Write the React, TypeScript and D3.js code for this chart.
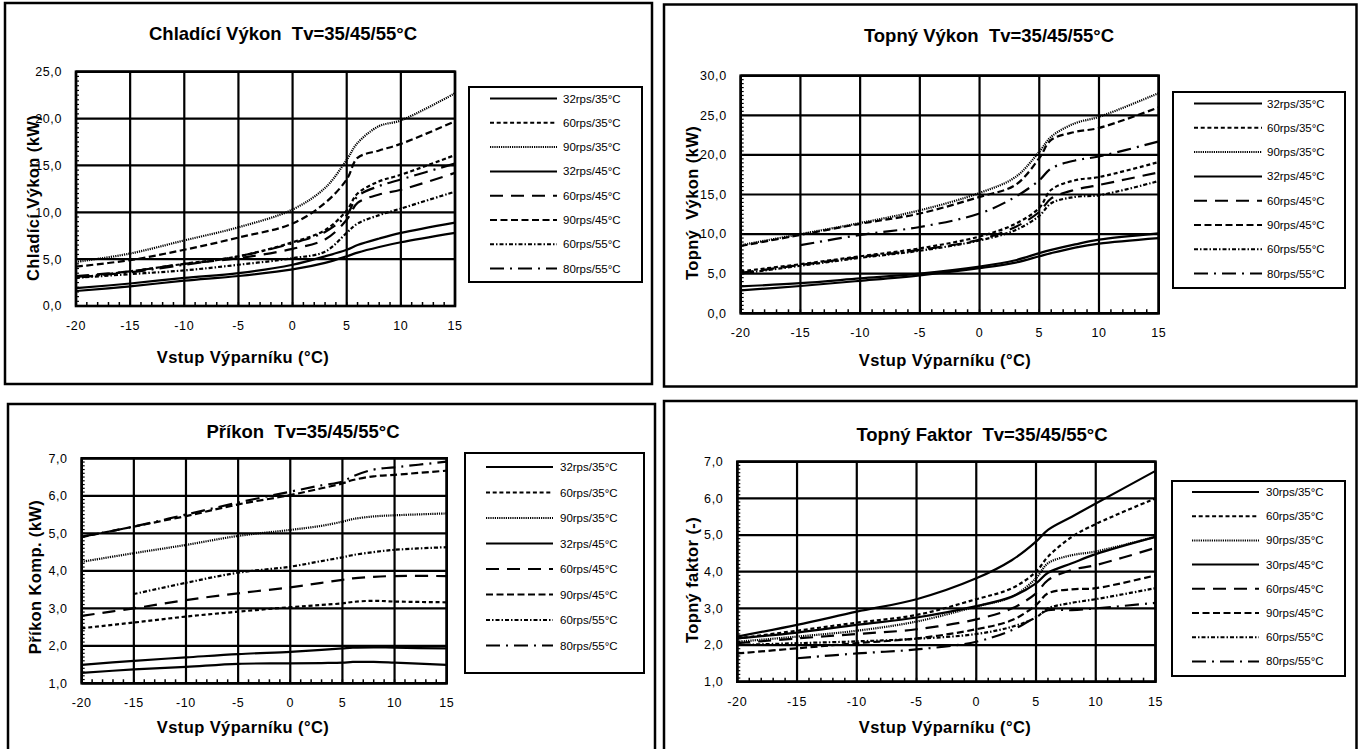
import React from "react";
import * as d3 from "d3";

// evaporator inlet temperatures the curves were read at
const evapTemps = [-20, -15, -10, -5, 0, 3, 5, 6, 8, 10, 15];
const xTicks = [-20, -15, -10, -5, 0, 5, 10, 15];

const legendLabels = ["32rps/35°C", "60rps/35°C", "90rps/35°C", "32rps/45°C", "60rps/45°C", "90rps/45°C", "60rps/55°C", "80rps/55°C"];
const copLegendLabels = ["30rps/35°C", "60rps/35°C", "90rps/35°C", "30rps/45°C", "60rps/45°C", "90rps/45°C", "60rps/55°C", "80rps/55°C"];

// Chladící výkon (kW), rows in legend order
const coolingValues: (number | null)[][] = [
    [1.9, 2.4, 3.0, 3.5, 4.4, 5.3, 6.0, 6.5, 7.2, 7.8, 8.9],
    [3.0, 3.7, 4.5, 5.3, 6.8, 8.1, 10.2, 12.0, 13.3, 14.0, 16.1],
    [4.7, 5.6, 7.0, 8.4, 10.3, 12.6, 15.6, 17.4, 19.2, 19.8, 22.7],
    [1.6, 2.1, 2.7, 3.2, 3.9, 4.6, 5.3, 5.7, 6.3, 6.8, 7.8],
    [3.2, 3.7, 4.5, 5.1, 6.1, 7.1, 9.2, 11.0, 11.9, 12.4, 14.2],
    [4.2, 4.9, 6.0, 7.3, 8.8, 11.0, 13.5, 15.8, 16.6, 17.3, 19.7],
    [3.0, 3.4, 3.8, 4.4, 5.1, 5.8, 7.8, 8.8, 9.7, 10.4, 12.2],
    [3.1, 3.6, 4.4, 5.3, 6.7, 7.9, 9.7, 11.7, 12.8, 13.5, 15.2],
];

// Topný výkon (kW)
const heatingValues: (number | null)[][] = [
    [3.4, 3.8, 4.4, 5.0, 5.9, 6.7, 7.6, 8.0, 8.7, 9.3, 10.1],
    [5.3, 6.2, 7.2, 8.2, 9.7, 11.3, 13.3, 15.6, 16.8, 17.2, 19.1],
    [8.6, 10.0, 11.4, 13.0, 15.2, 17.2, 20.4, 22.3, 24.0, 24.8, 27.8],
    [2.9, 3.45, 4.1, 4.8, 5.7, 6.4, 7.2, 7.6, 8.3, 8.8, 9.5],
    [5.1, 6.1, 7.1, 8.0, 9.3, 10.9, 12.8, 14.5, 15.6, 16.2, 17.8],
    [8.5, 9.9, 11.3, 12.6, 14.7, 16.2, 19.6, 21.9, 22.9, 23.4, 26.0],
    [5.0, 6.0, 7.0, 7.9, 9.2, 10.5, 12.3, 13.9, 14.7, 14.9, 16.7],
    [null, 8.6, 9.9, 10.9, 12.6, 14.7, 16.8, 18.3, 19.3, 19.8, 21.7],
];

// Příkon kompresoru (kW)
const powerValues: (number | null)[][] = [
    [1.28, 1.37, 1.44, 1.52, 1.53, 1.54, 1.55, 1.57, 1.57, 1.55, 1.49],
    [2.47, 2.62, 2.78, 2.91, 3.03, 3.09, 3.13, 3.17, 3.2, 3.18, 3.16],
    [4.24, 4.47, 4.69, 4.93, 5.09, 5.2, 5.31, 5.38, 5.45, 5.48, 5.53],
    [1.49, 1.6, 1.69, 1.78, 1.84, 1.89, 1.93, 1.95, 1.96, 1.95, 1.93],
    [2.8, 3.0, 3.22, 3.4, 3.56, 3.68, 3.76, 3.8, 3.84, 3.86, 3.86],
    [4.9, 5.18, 5.46, 5.77, 6.02, 6.2, 6.33, 6.42, 6.52, 6.56, 6.67],
    [null, 3.38, 3.68, 3.95, 4.11, 4.26, 4.36, 4.42, 4.5, 4.56, 4.63],
    [4.91, 5.18, 5.5, 5.82, 6.11, 6.28, 6.38, 6.52, 6.7, 6.76, 6.91],
];

// Topný faktor (-)
const copValues: (number | null)[][] = [
    [2.23, 2.55, 2.91, 3.25, 3.82, 4.32, 4.82, 5.14, 5.5, 5.86, 6.75],
    [2.18, 2.39, 2.61, 2.82, 3.25, 3.55, 4.0, 4.41, 4.95, 5.3, 6.0],
    [2.09, 2.23, 2.39, 2.64, 3.05, 3.32, 3.82, 4.23, 4.45, 4.55, 4.95],
    [2.18, 2.34, 2.55, 2.75, 3.06, 3.32, 3.68, 3.97, 4.23, 4.48, 4.95],
    [2.05, 2.18, 2.3, 2.43, 2.7, 3.0, 3.41, 3.77, 4.05, 4.18, 4.65],
    [1.77, 1.91, 2.05, 2.18, 2.43, 2.68, 3.09, 3.41, 3.52, 3.55, 3.9],
    [2.0, 2.05, 2.1, 2.17, 2.3, 2.5, 2.75, 3.0, 3.15, 3.25, 3.55],
    [null, 1.64, 1.77, 1.88, 2.09, 2.41, 2.77, 2.95, 2.95, 3.0, 3.15],
];

// one dash pattern per legend row
const lineDashes = ["", "4,2.7", "1.2,1", "", "13,8", "7,3.5", "4,2,1.5,2", "14,6,2,6"];

const FONT = "'Liberation Sans', Arial, sans-serif";

interface PanelCfg {
    frame: {x: number, y: number, w: number, h: number};
    plot: {left: number, right: number, top: number, bottom: number};
    yDomain: [number, number];
    yStep: number;
    title: string;
    titlePos: [number, number];
    yLabel: string;
    yLabelPos: [number, number];
    xLabelPos: [number, number];
    legend: {x: number, y: number, w: number, h: number, row0: number, rowStep: number, lx1: number, lx2: number, tx: number};
    labels: string[];
    values: (number | null)[][];
}

const panels: PanelCfg[] = [
    {
        frame: {x: 5, y: 3, w: 647, h: 381},
        plot: {left: 76, right: 455, top: 71.7, bottom: 306},
        yDomain: [0, 25], yStep: 5,
        title: "Chladící Výkon  Tv=35/45/55°C", titlePos: [283, 40],
        yLabel: "Chladící Výkon (kW)", yLabelPos: [33, 198],
        xLabelPos: [243, 363],
        legend: {x: 469, y: 87, w: 173, h: 195, row0: 98.5, rowStep: 24.3, lx1: 490, lx2: 557, tx: 563},
        labels: legendLabels, values: coolingValues,
    },
    {
        frame: {x: 664, y: 4.5, w: 692.5, h: 382},
        plot: {left: 740.7, right: 1158.7, top: 75.7, bottom: 313.3},
        yDomain: [0, 30], yStep: 5,
        title: "Topný Výkon  Tv=35/45/55°C", titlePos: [989, 42],
        yLabel: "Topný  Výkon (kW)", yLabelPos: [692, 203],
        xLabelPos: [945, 366],
        legend: {x: 1173, y: 92, w: 172, h: 196, row0: 103.5, rowStep: 24.3, lx1: 1194, lx2: 1262, tx: 1267},
        labels: legendLabels, values: heatingValues,
    },
    {
        frame: {x: 8, y: 404, w: 647, h: 360},
        plot: {left: 81.7, right: 446.7, top: 458.3, bottom: 683.3},
        yDomain: [1, 7], yStep: 1,
        title: "Příkon  Tv=35/45/55°C", titlePos: [303, 438],
        yLabel: "Příkon Komp. (kW)", yLabelPos: [35, 577],
        xLabelPos: [243, 733],
        legend: {x: 465, y: 453, w: 179, h: 220, row0: 467, rowStep: 25.5, lx1: 486, lx2: 553, tx: 560},
        labels: legendLabels, values: powerValues,
    },
    {
        frame: {x: 664, y: 401, w: 692.5, h: 360},
        plot: {left: 737.3, right: 1155.5, top: 461.7, bottom: 681.7},
        yDomain: [1, 7], yStep: 1,
        title: "Topný Faktor  Tv=35/45/55°C", titlePos: [982, 441],
        yLabel: "Topný faktor (-)", yLabelPos: [692, 580],
        xLabelPos: [945, 733],
        legend: {x: 1172, y: 481, w: 173, h: 195, row0: 492, rowStep: 24.2, lx1: 1192, lx2: 1259, tx: 1266},
        labels: copLegendLabels, values: copValues,
    },
];

const fmt = (v: number) => d3.format(".1f")(v).replace(".", ",");

const preserve = {whiteSpace: "pre" as const};

function Panel({cfg}: {cfg: PanelCfg}): JSX.Element {
    const {plot, frame, legend} = cfg;
    const x = d3.scaleLinear().domain([-20, 15]).range([plot.left, plot.right]);
    const y = d3.scaleLinear().domain(cfg.yDomain).range([plot.bottom, plot.top]);
    const yTicks = d3.range(cfg.yDomain[0], cfg.yDomain[1] + 1e-9, cfg.yStep);
    const yMinor = d3.range(cfg.yDomain[0], cfg.yDomain[1] + 1e-9, cfg.yStep / 10);
    const xMinor = d3.range(-20, 15 + 1e-9, 1);

    const line = d3.line<[number, number | null]>()
        .defined(d => d[1] != null)
        .x(d => x(d[0]))
        .y(d => y(d[1] as number))
        .curve(d3.curveCatmullRom.alpha(0.5));

    return (
        <g>
            <rect x={frame.x} y={frame.y} width={frame.w} height={frame.h} fill="white" stroke="black" strokeWidth={2.5}/>
            <text x={cfg.titlePos[0]} y={cfg.titlePos[1]} textAnchor="middle" fontSize={18.5} fontWeight="bold"
                  fontFamily={FONT} style={preserve}>{cfg.title}</text>

            {/* grid */}
            {xTicks.map(t => (
                <line key={"gx" + t} x1={x(t)} x2={x(t)} y1={plot.top} y2={plot.bottom} stroke="black" strokeWidth={2.2}/>
            ))}
            {yTicks.map(t => (
                <line key={"gy" + t} x1={plot.left} x2={plot.right} y1={y(t)} y2={y(t)} stroke="black" strokeWidth={2.2}/>
            ))}

            {/* curves */}
            {cfg.values.map((vals, i) => (
                <path key={"s" + i}
                      d={line(evapTemps.map((t, j) => [t, vals[j]] as [number, number | null])) || ""}
                      fill="none" stroke="black" strokeWidth={2.2}
                      strokeDasharray={lineDashes[i] || undefined}/>
            ))}

            <rect x={plot.left} y={plot.top} width={plot.right - plot.left} height={plot.bottom - plot.top}
                  fill="none" stroke="black" strokeWidth={2.6}/>

            {/* minor ticks inside the axes */}
            {xMinor.map(t => (
                <line key={"mx" + t} x1={x(t)} x2={x(t)} y1={plot.bottom} y2={plot.bottom - 4} stroke="black" strokeWidth={1.5}/>
            ))}
            {yMinor.map((t, i) => (
                <line key={"my" + i} x1={plot.left} x2={plot.left + 3} y1={y(t)} y2={y(t)} stroke="black" strokeWidth={1.2}/>
            ))}

            {/* tick labels */}
            {xTicks.map(t => (
                <text key={"tx" + t} x={x(t)} y={plot.bottom + 24} textAnchor="middle" fontSize={12.5} letterSpacing={0.6} fontFamily={FONT}>{t}</text>
            ))}
            {yTicks.map(t => (
                <text key={"ty" + t} x={plot.left - 14} y={y(t)} dy="0.35em" textAnchor="end" fontSize={12.5} letterSpacing={0.6} fontFamily={FONT}>{fmt(t)}</text>
            ))}

            <text x={cfg.xLabelPos[0]} y={cfg.xLabelPos[1]} textAnchor="middle" fontSize={16.5} fontWeight="bold" letterSpacing={0.4} fontFamily={FONT}>Vstup Výparníku (°C)</text>
            <text transform={`translate(${cfg.yLabelPos[0]},${cfg.yLabelPos[1]}) rotate(-90)`} dy="0.35em" textAnchor="middle"
                  fontSize={16.5} fontWeight="bold" letterSpacing={0.4} fontFamily={FONT} style={preserve}>{cfg.yLabel}</text>

            {/* legend */}
            <rect x={legend.x} y={legend.y} width={legend.w} height={legend.h} fill="white" stroke="black" strokeWidth={2}/>
            {cfg.labels.map((lab, i) => {
                const ry = legend.row0 + i * legend.rowStep;
                return (
                    <g key={"l" + i}>
                        <line x1={legend.lx1} x2={legend.lx2} y1={ry} y2={ry} stroke="black" strokeWidth={2}
                              strokeDasharray={lineDashes[i] || undefined}/>
                        <text x={legend.tx} y={ry} dy="0.35em" fontSize={11.5} fontFamily={FONT}>{lab}</text>
                    </g>
                );
            })}
        </g>
    );
}

export default function App(): JSX.Element {
    return (
        <svg width={1359} height={749} style={{position: "absolute", left: 0, top: 0, background: "white"}}>
            <rect width={1359} height={749} fill="white"/>
            {panels.map((p, i) => <Panel key={i} cfg={p}/>)}
        </svg>
    );
}
